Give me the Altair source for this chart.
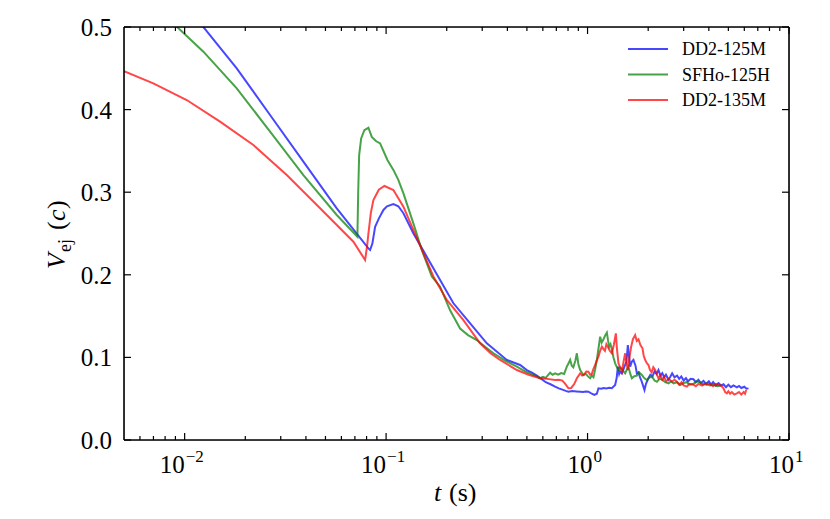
import altair as alt
import pandas as pd

# ---------------- data ----------------
names = ["DD2-125M", "SFHo-125H", "DD2-135M"]
colors = ["#0000ff", "#008000", "#ff0000"]

blue_t = [0.005, 0.0075, 0.0098, 0.01216, 0.01814, 0.02655, 0.03885, 0.0569, 0.0817, 0.0833,
          0.0855, 0.0882, 0.092, 0.097, 0.101, 0.1087, 0.115, 0.1219, 0.1367, 0.1592, 0.1854,
          0.2159, 0.2614, 0.3162, 0.3975, 0.4626, 0.4995, 0.53, 0.56, 0.59, 0.62, 0.655, 0.69, 0.72,
          0.75, 0.78, 0.804, 0.84, 0.88, 0.92, 0.95, 0.98, 1.01, 1.05, 1.08, 1.112, 1.133, 1.17, 1.2,
          1.24, 1.28, 1.32, 1.371, 1.395, 1.414, 1.435, 1.45, 1.48, 1.52, 1.56, 1.585, 1.61, 1.627,
          1.66, 1.69, 1.73, 1.757, 1.79, 1.82, 1.85, 1.874, 1.917, 1.95, 2.006, 2.05, 2.1, 2.15, 2.2,
          2.249, 2.3, 2.35, 2.4, 2.45, 2.522, 2.58, 2.63, 2.7, 2.78, 2.85, 2.92, 3.0, 3.08, 3.15,
          3.25, 3.357, 3.45, 3.55, 3.65, 3.763, 3.88, 4.0, 4.1, 4.2, 4.33, 4.467, 4.6, 4.73, 4.87,
          5.0, 5.15, 5.3, 5.512, 5.65, 5.8, 6.0, 6.15, 6.295]
blue_v = [0.600, 0.563, 0.530, 0.5024, 0.450, 0.3935, 0.337, 0.2805, 0.232, 0.230,
          0.238, 0.258, 0.268, 0.2785, 0.283, 0.2857, 0.283, 0.2745, 0.250, 0.222, 0.1937,
          0.1655, 0.1413, 0.117, 0.0969, 0.0908, 0.0847, 0.0815, 0.078, 0.074, 0.070, 0.0675, 0.0646, 0.0625,
          0.061, 0.0595, 0.0585, 0.0592, 0.0588, 0.0584, 0.0580, 0.0588, 0.0585, 0.0560, 0.0545, 0.056, 0.0626, 0.0622, 0.0630,
          0.0624, 0.0632, 0.0628, 0.0666, 0.075, 0.0888, 0.080, 0.083, 0.0807, 0.088, 0.095, 0.115, 0.100, 0.0888,
          0.095, 0.097, 0.090, 0.0807, 0.082, 0.076, 0.072, 0.068, 0.0605, 0.068, 0.0747, 0.079, 0.077, 0.083, 0.080,
          0.0847, 0.078, 0.081, 0.076, 0.079, 0.073, 0.077, 0.0807, 0.076, 0.078, 0.074, 0.077, 0.072, 0.075, 0.071,
          0.074, 0.0735, 0.070, 0.073, 0.069, 0.0716, 0.068, 0.071, 0.067, 0.070, 0.066, 0.069, 0.066, 0.0675, 0.064,
          0.067, 0.064, 0.066, 0.0638, 0.0655, 0.063, 0.0645, 0.062, 0.0625]

green_t = [0.005, 0.0068, 0.00896, 0.01239, 0.01814, 0.02655, 0.03885, 0.0569, 0.07203,
           0.0727, 0.0735, 0.0752, 0.078, 0.0817, 0.0849, 0.089, 0.0934, 0.1015, 0.1087, 0.115, 0.1219,
           0.1367, 0.1504, 0.1686, 0.1854, 0.2078, 0.233, 0.255, 0.282, 0.31, 0.341, 0.39, 0.4457, 0.49,
           0.5386, 0.56, 0.58, 0.60, 0.62, 0.652, 0.67, 0.69, 0.715, 0.74, 0.765, 0.789, 0.805, 0.82,
           0.835, 0.85, 0.87, 0.885, 0.90, 0.919, 0.935, 0.954, 0.98, 1.005, 1.03, 1.05, 1.07, 1.09,
           1.112, 1.135, 1.155, 1.175, 1.2, 1.225, 1.247, 1.265, 1.28, 1.3, 1.32, 1.345, 1.371, 1.4,
           1.424, 1.45, 1.48, 1.51, 1.537, 1.565, 1.596, 1.63, 1.66, 1.7, 1.757, 1.8, 1.861, 1.91,
           1.97, 2.03, 2.1, 2.15, 2.209, 2.28, 2.35, 2.43, 2.522, 2.6, 2.67, 2.78, 2.883, 3.0, 3.1,
           3.22, 3.357, 3.48, 3.6, 3.75, 3.912, 4.05, 4.2, 4.4, 4.6]
green_v = [0.550, 0.525, 0.5024, 0.4701, 0.4258, 0.3733, 0.3208, 0.2724, 0.2461,
           0.300, 0.345, 0.365, 0.375, 0.378, 0.367, 0.362, 0.359, 0.339, 0.327, 0.315, 0.2986,
           0.262, 0.230, 0.198, 0.1856, 0.157, 0.135, 0.127, 0.121, 0.113, 0.105, 0.096, 0.0888, 0.083,
           0.0787, 0.0770, 0.0747, 0.0765, 0.0752, 0.0815, 0.0790, 0.0807, 0.0790, 0.0810, 0.0800, 0.0888, 0.0930, 0.097,
           0.0900, 0.088, 0.0960, 0.105, 0.0920, 0.0847, 0.0820, 0.0787, 0.080, 0.0770, 0.0747, 0.0780, 0.076, 0.085,
           0.097, 0.112, 0.125, 0.118, 0.122, 0.127, 0.130, 0.120, 0.113, 0.116, 0.110, 0.100, 0.0928, 0.088,
           0.0847, 0.088, 0.086, 0.083, 0.0807, 0.085, 0.0888, 0.080, 0.0747, 0.077, 0.078, 0.082, 0.0787, 0.075,
           0.0726, 0.076, 0.076, 0.072, 0.0706, 0.074, 0.073, 0.070, 0.0686, 0.071, 0.0686, 0.070, 0.0666, 0.069, 0.070,
           0.067, 0.068, 0.071, 0.070, 0.067, 0.0686, 0.066, 0.067, 0.065, 0.066]

red_t = [0.005, 0.00699, 0.01024, 0.01499, 0.02193, 0.03213, 0.04703, 0.06882, 0.07865,
         0.0805, 0.0817, 0.084, 0.0865, 0.092, 0.0981, 0.1087, 0.1219, 0.1367, 0.1532, 0.1717, 0.2001,
         0.2419, 0.2928, 0.33, 0.3681, 0.4457, 0.51, 0.5815, 0.63, 0.69, 0.72, 0.75, 0.775, 0.804, 0.83,
         0.86, 0.885, 0.919, 0.94, 0.96, 0.985, 1.01, 1.03, 1.05, 1.07, 1.091, 1.11, 1.133, 1.155, 1.178,
         1.2, 1.22, 1.24, 1.26, 1.29, 1.32, 1.35, 1.382, 1.4, 1.424, 1.45, 1.48, 1.51, 1.537, 1.56,
         1.585, 1.61, 1.646, 1.68, 1.723, 1.755, 1.79, 1.83, 1.874, 1.9, 1.932, 1.97, 2.006, 2.04, 2.08,
         2.12, 2.167, 2.21, 2.249, 2.3, 2.35, 2.4, 2.46, 2.53, 2.622, 2.7, 2.776, 2.85, 2.93, 3.0, 3.112,
         3.2, 3.357, 3.45, 3.55, 3.7, 3.8, 3.912, 4.05, 4.2, 4.33, 4.467, 4.6, 4.73, 4.82, 4.917, 5.0,
         5.1, 5.2, 5.35, 5.512, 5.65, 5.8, 5.95, 6.05, 6.13]
red_v = [0.4465, 0.4318, 0.4116, 0.3854, 0.3571, 0.3208, 0.2805, 0.2401, 0.2179,
         0.235, 0.250, 0.275, 0.2906, 0.303, 0.3075, 0.3027, 0.2825, 0.254, 0.226, 0.198, 0.1695,
         0.145, 0.117, 0.105, 0.0969, 0.0847, 0.079, 0.0747, 0.0740, 0.0726, 0.0730, 0.072, 0.0680, 0.0626, 0.063,
         0.068, 0.0747, 0.0807, 0.0780, 0.079, 0.0830, 0.0827, 0.0790, 0.080, 0.0860, 0.0908, 0.0960, 0.101, 0.108, 0.113,
         0.110, 0.108, 0.116, 0.113, 0.108, 0.105, 0.115, 0.129, 0.110, 0.0928, 0.088, 0.0827, 0.095, 0.105, 0.094,
         0.0847, 0.098, 0.113, 0.122, 0.127, 0.120, 0.122, 0.115, 0.111, 0.102, 0.097, 0.093, 0.0908, 0.085, 0.082,
         0.088, 0.0847, 0.079, 0.0747, 0.078, 0.073, 0.076, 0.071, 0.074, 0.0706, 0.073, 0.0706, 0.067, 0.070, 0.066, 0.0646,
         0.068, 0.067, 0.065, 0.068, 0.066, 0.068, 0.0666, 0.068, 0.065, 0.068, 0.0666, 0.066, 0.0626, 0.058, 0.0565, 0.059,
         0.056, 0.058, 0.055, 0.0565, 0.058, 0.055, 0.058, 0.056, 0.0605]

y_ticks = [0.0, 0.1, 0.2, 0.3, 0.4, 0.5]
x_major = [0.01, 0.1, 1.0, 10.0]
x_exponents = ["\u22122", "\u22121", "0", "1"]
x_minor = [0.006, 0.007, 0.008, 0.009,
           0.02, 0.03, 0.04, 0.05, 0.06, 0.07, 0.08, 0.09,
           0.2, 0.3, 0.4, 0.5, 0.6, 0.7, 0.8, 0.9,
           2, 3, 4, 5, 6, 7, 8, 9]

# ---------------- tables ----------------
series = [(names[0], blue_t, blue_v), (names[1], green_t, green_v), (names[2], red_t, red_v)]
rows = []
for n, ts, vs in series:
    for t, v in zip(ts, vs):
        rows.append({"name": n, "t": t, "v": v})
df = pd.DataFrame(rows)

W, H = 665, 413
FONT = "Liberation Serif"
xscale = alt.Scale(type="log", domain=[0.005, 10], nice=False)
yscale = alt.Scale(domain=[0, 0.5], nice=False)
cscale = alt.Scale(domain=names, range=colors)

line_layers = []
for n in names:
    line_layers.append(
        alt.Chart(df).transform_filter(alt.datum.name == n).mark_line(
            strokeWidth=2, opacity=0.72, clip=True
        ).encode(
            x=alt.X("t:Q", scale=xscale, axis=None),
            y=alt.Y("v:Q", scale=yscale, axis=None),
            color=alt.Color("name:N", scale=cscale, legend=None),
        )
    )

maj_df = pd.DataFrame({"tick": x_major, "exp": x_exponents})
min_df = pd.DataFrame({"tick": x_minor})
yt_df = pd.DataFrame({"yt": y_ticks})

def xticks(data, y1, y2):
    return alt.Chart(data).mark_rule(color="black", strokeWidth=1.2).encode(
        x=alt.X("tick:Q", scale=xscale, axis=None), y=alt.value(y1), y2=alt.value(y2))

def yticks(x1, x2):
    return alt.Chart(yt_df).mark_rule(color="black", strokeWidth=1.2).encode(
        y=alt.Y("yt:Q", scale=yscale, axis=None), x=alt.value(x1), x2=alt.value(x2))

ticks = [
    xticks(maj_df, H, H - 7), xticks(maj_df, 0, 7),
    xticks(min_df, H, H - 4), xticks(min_df, 0, 4),
    yticks(0, 7), yticks(W, W - 7),
]

one = pd.DataFrame({"a": [0]})

def frame_rule(x1, x2, y1, y2):
    return alt.Chart(one).mark_rule(color="black", strokeWidth=1.6).encode(
        x=alt.value(x1), x2=alt.value(x2), y=alt.value(y1), y2=alt.value(y2))

frame = [frame_rule(0, W, 0, 0), frame_rule(0, W, H, H),
         frame_rule(0, 0, 0, H), frame_rule(W, W, 0, H)]

# y tick labels
ylab = alt.Chart(yt_df).transform_calculate(
    lab="format(datum.yt, '.1f')"
).mark_text(font=FONT, fontSize=25, align="right", baseline="middle", color="black", dy=1).encode(
    y=alt.Y("yt:Q", scale=yscale, axis=None), x=alt.value(-12), text="lab:N")

# x tick labels: "10" with superscript exponent
neg = maj_df[maj_df["exp"].str.startswith("\u2212")]
pos = maj_df[~maj_df["exp"].str.startswith("\u2212")]
xlab = []
for part, shift in [(neg, 0), (pos, 5)]:
    xlab.append(alt.Chart(part).mark_text(
        font=FONT, fontSize=25, align="right", baseline="alphabetic", dx=shift, color="black"
    ).encode(x=alt.X("tick:Q", scale=xscale, axis=None), y=alt.value(H + 33), text=alt.value("10")))
    xlab.append(alt.Chart(part).mark_text(
        font=FONT, fontSize=17, align="left", baseline="alphabetic", dx=shift + 1, color="black"
    ).encode(x=alt.X("tick:Q", scale=xscale, axis=None), y=alt.value(H + 22), text="exp:N"))

def txt(s, x, y, size=25, italic=False, angle=0):
    kw = dict(font=FONT, fontSize=size, align="left", baseline="alphabetic", color="black")
    if italic:
        kw["fontStyle"] = "italic"
    if angle:
        kw["angle"] = angle
    return alt.Chart(one).mark_text(**kw).encode(x=alt.value(x), y=alt.value(y), text=alt.value(s))

titles = [
    txt("t", 310, H + 61, size=26, italic=True),
    txt("(s)", 325, H + 61, size=26),
    txt("V", -59, 242, size=26, italic=True, angle=270),
    txt("ej", -53, 225, size=18, angle=270),
    txt("(", -59, 203, size=26, angle=270),
    txt("c", -59, 194, size=26, italic=True, angle=270),
    txt(")", -59, 182, size=26, angle=270),
]

main = alt.layer(*line_layers, *ticks, *frame, ylab, *xlab, *titles)

leg_df = pd.DataFrame({"name": names, "row": [0, 1, 2]})
ley = alt.Y("row:Q", scale=alt.Scale(domain=[0, 2], range=[22, 73]), axis=None)
leg_lines = alt.Chart(leg_df).mark_rule(strokeWidth=2.2, opacity=0.72).encode(
    y=ley, x=alt.value(504), x2=alt.value(544),
    color=alt.Color("name:N", scale=cscale, legend=None))
leg_text = alt.Chart(leg_df).mark_text(
    font=FONT, fontSize=18, align="left", baseline="middle", color="black", dy=1
).encode(y=ley, x=alt.value(558), text="name:N")
legend = alt.layer(leg_lines, leg_text)

chart = alt.layer(main, legend).resolve_scale(y="independent").properties(
    width=W, height=H,
    autosize=alt.AutoSizeParams(type="none"),
    padding={"left": 116, "top": 19, "right": 33, "bottom": 79},
).configure_view(stroke=None).configure(background="white")

chart.save("out.html", embed_options={"renderer": "svg", "actions": False})
